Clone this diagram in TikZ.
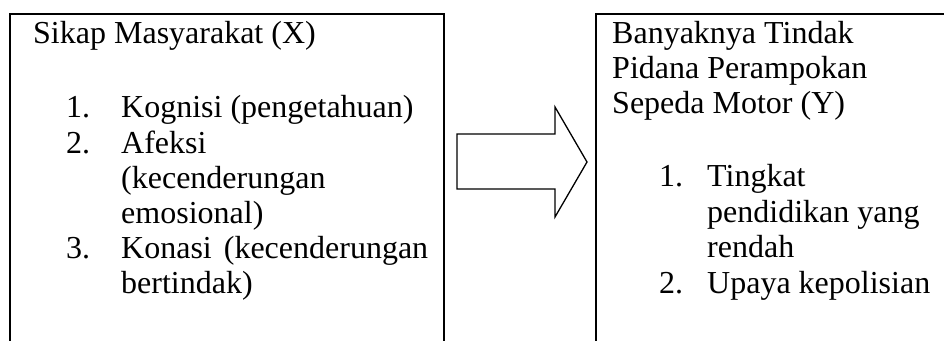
\documentclass[tikz,border=0pt]{standalone}
\usepackage{fontspec}
\setmainfont{Liberation Serif}
\begin{document}
\begin{tikzpicture}[x=1pt,y=-1pt,
  txt/.style={anchor=base west, inner sep=0pt, font=\fontsize{32}{36}\selectfont},
  frame/.style={line width=2pt},
  blockarrow/.style={line width=1.3pt, line join=miter}]
\useasboundingbox (0,0) rectangle (944,340);

% open-bottomed frames
\draw[frame] (10,350) -- (10,14) -- (444,14) -- (444,350);
\draw[frame] (596,350) -- (596,14) -- (946,14) -- (946,350);

% block arrow between the frames
\draw[blockarrow] (457,134) -- (555,134) -- (555,107) -- (587,162)
  -- (555,217) -- (555,189) -- (457,189) -- cycle;

% left column: variable X
\node[txt] (lhead) at (33,43) {Sikap Masyarakat (X)};
\node[txt] (l1n) at (66,117) {1.};
\node[txt] (l1)  at (121,117) {Kognisi (pengetahuan)};
\node[txt] (l2n) at (66,153) {2.};
\node[txt] (l2)  at (121,153) {Afeksi};
\node[txt] (l2b) at (121,188) {(kecenderungan};
\node[txt] (l2c) at (121,223) {emosional)};
\node[txt] (l3n) at (66,258) {3.};
\node[txt] (l3)  at (121,258) {\hbox to 307pt{Konasi\hfill(kecenderungan}};
\node[txt] (l3b) at (121,293) {bertindak)};

% right column: variable Y
\node[txt] (rh1) at (612,43)  {Banyaknya Tindak};
\node[txt] (rh2) at (612,78)  {Pidana Perampokan};
\node[txt] (rh3) at (612,113) {Sepeda Motor (Y)};
\node[txt] (r1n) at (659,186) {1.};
\node[txt] (r1)  at (707,186) {Tingkat};
\node[txt] (r1b) at (707,222) {pendidikan yang};
\node[txt] (r1c) at (707,257) {rendah};
\node[txt] (r2n) at (659,293) {2.};
\node[txt] (r2)  at (707,293) {Upaya kepolisian};
\end{tikzpicture}
\end{document}
